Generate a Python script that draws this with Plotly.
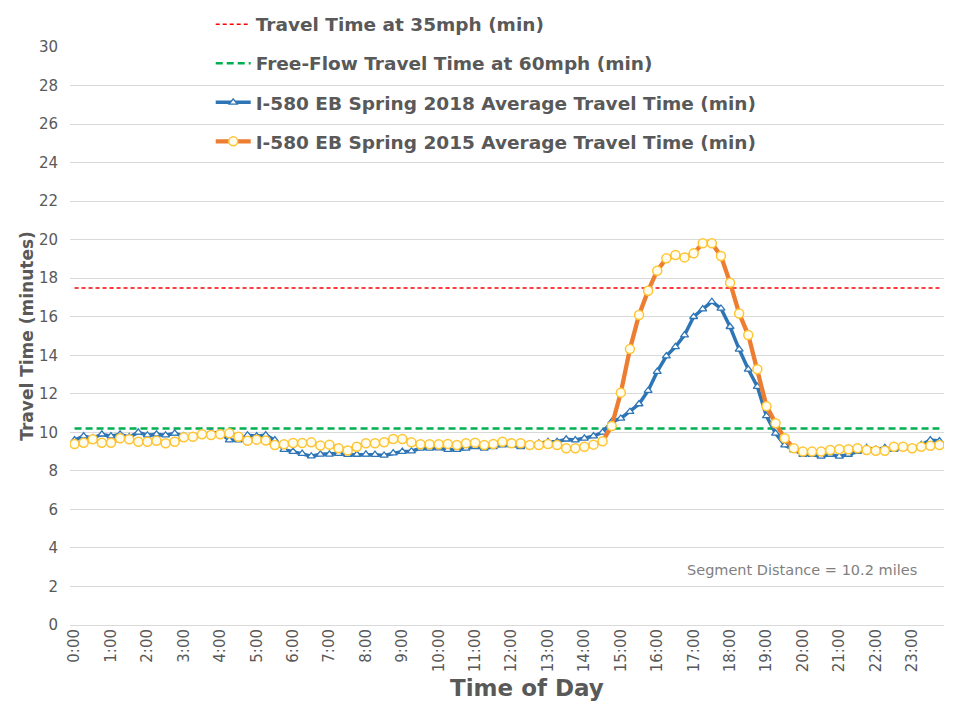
import plotly.graph_objects as go

hours = [f"{h}:{m:02d}" for h in range(24) for m in (0, 15, 30, 45)]
tick_labels = [f"{h}:00" for h in range(24)]

travel_35mph = 17.49
free_flow_60mph = 10.2

spring_2018 = [
    9.6, 9.8, 9.7, 9.9, 9.8, 9.9, 9.75, 10.0, 9.85, 9.9, 9.85, 9.95, 9.8, 9.75, 9.85, 10.0,
    9.95, 9.6, 9.6, 9.85, 9.8, 9.86, 9.6, 9.1, 9.0, 8.9, 8.76, 8.86, 8.86, 8.9, 8.84, 8.85,
    8.86, 8.84, 8.8, 8.92, 9.0, 9.02, 9.17, 9.17, 9.18, 9.1, 9.1, 9.17, 9.25, 9.17, 9.25, 9.34,
    9.34, 9.25, 9.34, 9.43, 9.51, 9.51, 9.64, 9.6, 9.69, 9.8, 10.0, 10.55, 10.72, 11.07, 11.47, 12.16,
    13.15, 13.96, 14.44, 15.05, 16.0, 16.4, 16.78, 16.43, 15.48, 14.31, 13.27, 12.37, 10.85, 9.95, 9.34, 9.08,
    8.85, 8.85, 8.75, 8.85, 8.75, 8.85, 9.0, 9.2, 9.1, 9.2, 9.1, 9.2, 9.15, 9.35, 9.6, 9.55,
]

spring_2015 = [
    9.39, 9.46, 9.64, 9.46, 9.46, 9.69, 9.64, 9.51, 9.51, 9.56, 9.43, 9.51, 9.74, 9.77, 9.9, 9.86,
    9.9, 9.95, 9.77, 9.56, 9.62, 9.58, 9.34, 9.38, 9.45, 9.45, 9.48, 9.32, 9.36, 9.17, 9.06, 9.25,
    9.43, 9.43, 9.48, 9.65, 9.65, 9.48, 9.38, 9.38, 9.38, 9.4, 9.34, 9.43, 9.46, 9.34, 9.39, 9.51,
    9.43, 9.43, 9.34, 9.34, 9.39, 9.34, 9.17, 9.17, 9.25, 9.36, 9.54, 10.33, 12.06, 14.32, 16.09, 17.35,
    18.39, 19.03, 19.2, 19.08, 19.29, 19.81, 19.81, 19.15, 17.77, 16.17, 15.05, 13.27, 11.36, 10.47, 9.69, 9.17,
    9.0, 9.0, 9.0, 9.08, 9.12, 9.12, 9.17, 9.08, 9.04, 9.04, 9.25, 9.25, 9.17, 9.25, 9.3, 9.34,
]

x_idx = list(range(len(hours)))
GRAY = "#595959"
FONT = "DejaVu Sans"

fig = go.Figure()
fig.add_trace(go.Scatter(
    x=x_idx, y=[travel_35mph] * len(hours), mode="lines",
    name="Travel Time at 35mph (min)", legendgroup="a",
    line=dict(color="#FF0000", width=1.5, dash="4px,3px"),
    customdata=hours))
fig.add_trace(go.Scatter(
    x=x_idx, y=[free_flow_60mph] * len(hours), mode="lines",
    name="Free-Flow Travel Time at 60mph (min)", legendgroup="b",
    line=dict(color="#00B050", width=2.4, dash="7px,4px"),
    customdata=hours))
fig.add_trace(go.Scatter(
    x=x_idx, y=spring_2018, mode="lines+markers",
    name="I-580 EB Spring 2018 Average Travel Time (min)", legendgroup="c",
    line=dict(color="#2E75B6", width=3.5),
    marker=dict(symbol="triangle-up", size=7, color="white",
                line=dict(color="#2E75B6", width=1.3)),
    customdata=hours))
fig.add_trace(go.Scatter(
    x=x_idx, y=spring_2015, mode="lines+markers",
    name="I-580 EB Spring 2015 Average Travel Time (min)", legendgroup="d",
    line=dict(color="#ED7D31", width=4.3),
    marker=dict(symbol="circle", size=9, color="#FFFDF0",
                line=dict(color="#FFC533", width=1.5)),
    customdata=hours))

fig.add_annotation(
    x=92.7, y=2.85, xref="x", yref="y", xanchor="right", yanchor="middle",
    text="Segment Distance = 10.2 miles", showarrow=False,
    font=dict(family=FONT, size=14.5, color="#7F7F7F"))

fig.add_annotation(
    x=0.5226, y=-0.109, xref="paper", yref="paper", xanchor="center", yanchor="middle",
    text="<b>Time of Day</b>", showarrow=False,
    font=dict(family=FONT, size=23, color=GRAY))

fig.update_layout(
    width=945, height=694,
    margin=dict(l=62, r=9, t=39, b=77, autoexpand=False),
    paper_bgcolor="white", plot_bgcolor="white",
    font=dict(family=FONT, color=GRAY),
    showlegend=True,
    legend=dict(x=0.161, y=1.0715, xanchor="left", yanchor="top",
                bgcolor="rgba(0,0,0,0)", tracegroupgap=12,
                font=dict(family=FONT, size=18.5, color=GRAY, weight="bold"),
                itemwidth=35),
    xaxis=dict(
        range=[-0.5, len(hours) - 0.5],
        tickmode="array", tickvals=x_idx[::4], ticktext=tick_labels,
        tickangle=-90, tickfont=dict(family=FONT, size=15, color=GRAY),
        showgrid=False, zeroline=False, showline=False, ticks="",
    ),
    yaxis=dict(
        range=[0, 30], dtick=2, tickfont=dict(family=FONT, size=15, color=GRAY),
        showgrid=True, gridcolor="#D9D9D9", gridwidth=1,
        zeroline=True, zerolinecolor="#D9D9D9", zerolinewidth=1,
        showline=False, ticks="", ticklabelstandoff=11,
        title=dict(text="<b>Travel Time (minutes)</b>", font=dict(family=FONT, size=17, color=GRAY),
                   standoff=0),
    ),
)

fig.write_html("out.html")
